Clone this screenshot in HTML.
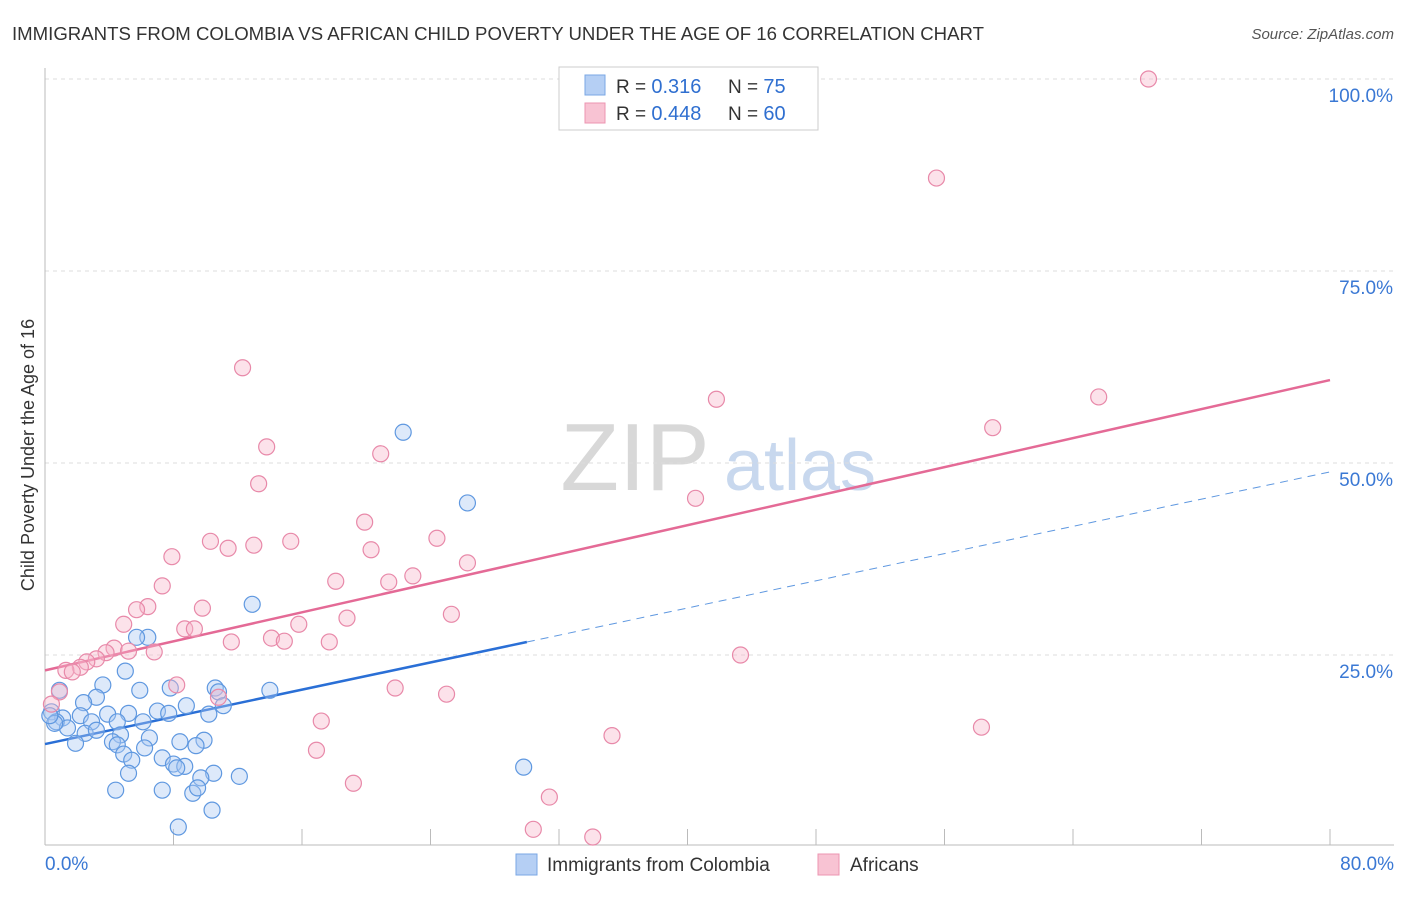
<!DOCTYPE html>
<html><head><meta charset="utf-8">
<style>
body{margin:0;background:#fff;font-family:"Liberation Sans",sans-serif}
svg text{font-family:"Liberation Sans",sans-serif}
</style></head>
<body>
<svg id="chart" width="1406" height="892" viewBox="0 0 1406 892" xmlns="http://www.w3.org/2000/svg">
<text x="12" y="40" font-size="18" fill="#333" textLength="972" lengthAdjust="spacingAndGlyphs">IMMIGRANTS FROM COLOMBIA VS AFRICAN CHILD POVERTY UNDER THE AGE OF 16 CORRELATION CHART</text>
<text x="1394" y="39" font-size="15" fill="#555" text-anchor="end" font-style="italic">Source: ZipAtlas.com</text>
<text x="34" y="455" font-size="18" fill="#333" text-anchor="middle" transform="rotate(-90 34 455)">Child Poverty Under the Age of 16</text>
<g>
<text x="635" y="490" font-size="96" fill="#d8d8d8" font-family="Liberation Serif" text-anchor="middle">ZIP</text>
<text x="800" y="490" font-size="72" fill="#c8d8ee" text-anchor="middle">atlas</text>
</g>
<g id="grid"></g>
<g id="axes"></g>
<g id="lines"></g>
<g id="points"></g>
<g>
<rect x="559" y="67" width="259" height="63" fill="#fff" stroke="#ccc"/>
<rect x="585" y="75" width="20" height="20" fill="#b5cff4" stroke="#7aa7e4"/>
<rect x="585" y="103" width="20" height="20" fill="#f8c3d3" stroke="#ec94b2"/>
<text x="616" y="93" font-size="19" fill="#333">R = <tspan fill="#2f6fd0" font-size="20">0.316</tspan></text>
<text x="728" y="93" font-size="19" fill="#333">N = <tspan fill="#2f6fd0" font-size="20">75</tspan></text>
<text x="616" y="120" font-size="19" fill="#333">R = <tspan fill="#2f6fd0" font-size="20">0.448</tspan></text>
<text x="728" y="120" font-size="19" fill="#333">N = <tspan fill="#2f6fd0" font-size="20">60</tspan></text>
</g>
<g>
<rect x="516" y="854" width="21" height="21" fill="#b5cff4" stroke="#7aa7e4"/>
<text x="547" y="871" font-size="19" fill="#333">Immigrants from Colombia</text>
<rect x="818" y="854" width="21" height="21" fill="#f8c3d3" stroke="#ec94b2"/>
<text x="850" y="871" font-size="19" fill="#333">Africans</text>
</g>
</svg>
<script>
const xTicks=[0,8,16,24,32,40,48,56,64,72,80];
const yTicks=[25,50,75,100];
const yTickLabels=["25.0%","50.0%","75.0%","100.0%"];
const xTickLabels=["0.0%","80.0%"];
const blueX=[22.3,26.3,12.9,6.4,5.7,5.0,3.6,5.9,7.8,10.6,10.8,14.0,3.2,0.9,2.4,8.8,11.1,7.0,7.7,10.2,5.2,3.9,2.2,0.4,1.1,2.9,4.5,6.1,0.7,1.4,2.5,3.2,4.7,6.5,4.2,4.5,8.4,9.9,9.4,1.9,6.2,4.9,5.4,7.3,8.0,8.7,8.2,5.2,10.5,12.1,9.7,29.8,4.4,7.3,9.2,9.5,10.4,8.3,0.6,0.3];
const blueY=[54.0,44.8,31.6,27.3,27.3,22.9,21.1,20.4,20.7,20.7,20.2,20.4,19.5,20.4,18.8,18.4,18.4,17.7,17.4,17.3,17.4,17.3,17.1,17.6,16.8,16.3,16.3,16.3,16.3,15.5,14.8,15.2,14.6,14.2,13.7,13.3,13.7,13.9,13.2,13.5,12.9,12.1,11.3,11.6,10.8,10.5,10.3,9.6,9.6,9.2,9.0,10.4,7.4,7.4,7.0,7.7,4.8,2.6,16.1,17.1];
const pinkX=[68.7,55.5,12.3,41.8,65.6,59.0,13.8,20.9,13.3,40.5,19.9,24.4,10.3,15.3,13.0,11.4,20.3,7.9,26.3,22.9,21.4,18.1,7.3,6.4,5.7,9.8,25.3,18.8,4.9,15.8,8.7,9.3,11.6,14.1,14.9,17.7,4.3,6.8,3.8,5.2,43.3,3.2,2.6,2.2,1.3,1.7,8.2,0.9,10.8,21.8,25.0,0.4,17.2,58.3,35.3,16.9,19.2,31.4,30.4,34.1];
const pinkY=[100,87.1,62.4,58.3,58.6,54.6,52.1,51.2,47.3,45.4,42.3,40.2,39.8,39.8,39.3,38.9,38.7,37.8,37.0,35.3,34.5,34.6,34.0,31.3,30.9,31.1,30.3,29.8,29.0,29.0,28.4,28.4,26.7,27.2,26.8,26.7,25.9,25.4,25.3,25.5,25.0,24.5,24.1,23.4,23.0,22.8,21.1,20.2,19.5,20.7,19.9,18.6,16.4,15.6,14.5,12.6,8.3,6.5,2.3,1.3];
const blueTrend=[13.4,0.443];
const pinkTrend=[23.0,0.4725];
const NS="http://www.w3.org/2000/svg";
const X=v=>45+v*(1285/80), Y=v=>847-v*7.68;
function mk(t,a,p){const e=document.createElementNS(NS,t);for(const k in a)e.setAttribute(k,a[k]);p.appendChild(e);return e;}
const grid=document.getElementById('grid'),axes=document.getElementById('axes'),lines=document.getElementById('lines'),pts=document.getElementById('points');
yTicks.forEach((t,i)=>{
 const g=mk('line',{x1:45,x2:1394,y1:Y(t),y2:Y(t),stroke:'#ddd','stroke-dasharray':'4,4'},grid);
 
 
 const tx=mk('text',{x:1393,y:Y(t)+23,'font-size':19,fill:'#3a78d4','text-anchor':'end'},axes);
 tx.textContent=yTickLabels[i];
 
 
});
const xl=mk('line',{x1:45,x2:1394,y1:845,y2:845,stroke:'#bbb'},axes);


const yl=mk('line',{x1:45,x2:45,y1:68,y2:845,stroke:'#bbb'},axes);


xTicks.forEach(t=>{
 const l=mk('line',{x1:X(t),x2:X(t),y1:829,y2:845,stroke:'#bbb'},axes);
 
 
});
[[0,'start',45],[80,'end',1394]].forEach((d,i)=>{
 const tx=mk('text',{x:d[2],y:870,'font-size':19,fill:'#3a78d4','text-anchor':d[1]},axes);
 tx.textContent=xTickLabels[i];
 
 
});
function drawPts(xs,ys,fill,stroke,name){xs.forEach((x,i)=>{
 const c=mk('circle',{cx:X(x),cy:Y(ys[i]),r:8,fill:fill,'fill-opacity':0.4,stroke:stroke,'stroke-width':1.2},pts);
 
 
});}
drawPts(blueX,blueY,'#a9c8f2','#5f98e0','colombia-point');
drawPts(pinkX,pinkY,'#f7b6cb','#e889a9','africans-point');
const bl=mk('line',{x1:X(0),y1:Y(blueTrend[0]),x2:X(30),y2:Y(blueTrend[0]+blueTrend[1]*30),stroke:'#2a6fd6','stroke-width':2.5},lines);


const bd=mk('line',{x1:X(30),y1:Y(blueTrend[0]+blueTrend[1]*30),x2:X(80),y2:Y(blueTrend[0]+blueTrend[1]*80),stroke:'#5f98e0','stroke-width':1,'stroke-dasharray':'8,6'},lines);


const pl=mk('line',{x1:X(0),y1:Y(pinkTrend[0]),x2:X(80),y2:Y(pinkTrend[0]+pinkTrend[1]*80),stroke:'#e46a96','stroke-width':2.5},lines);


</script>
</body></html>
